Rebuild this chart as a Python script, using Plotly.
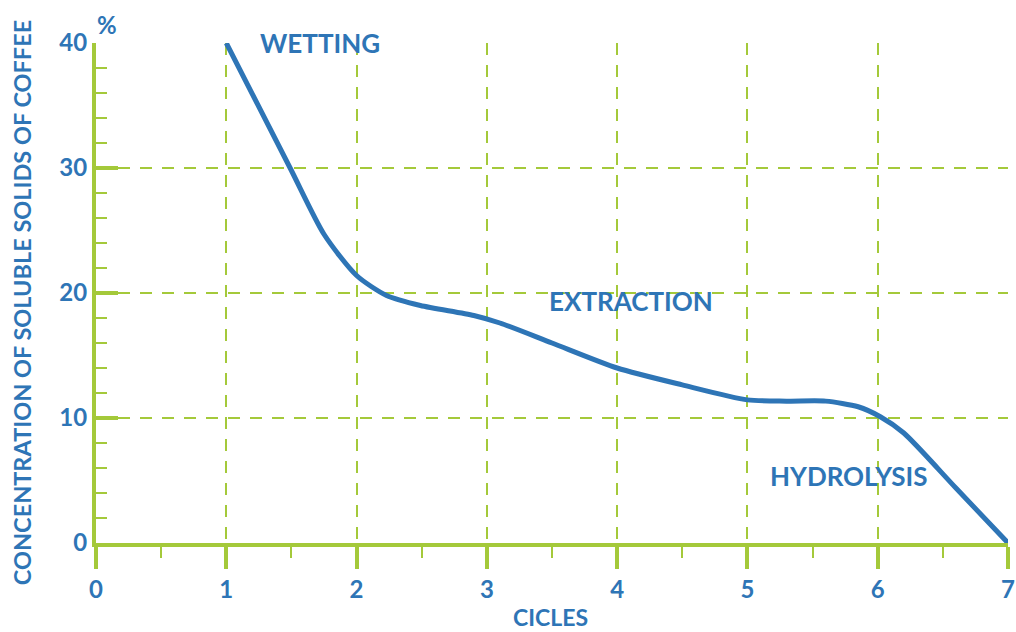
import plotly.graph_objects as go

cycles = [1, 1.49, 1.75, 2.0, 2.23, 2.49, 2.9, 3.1, 3.5, 4.0, 4.5, 5.0, 5.3, 5.6, 5.85, 6.02, 6.2, 6.6, 7]
concentration = [40, 30, 24.7, 21.4, 19.8, 19.0, 18.2, 17.6, 16.0, 14.0, 12.65, 11.45, 11.35, 11.35, 10.9, 10.1, 8.8, 4.4, 0]

x_ticks = [0, 1, 2, 3, 4, 5, 6, 7]
y_ticks = [0, 10, 20, 30, 40]

phases = ["WETTING", "EXTRACTION", "HYDROLYSIS"]
phase_x = [1.717, 4.105, 5.78]
phase_y = [40, 19.36, 5.36]

BLUE = "#2e75b6"
GREEN = "#a4c93a"
FONT = "Lato"

fig = go.Figure()
fig.add_trace(go.Scatter(
    x=cycles, y=concentration, mode="lines",
    line=dict(color=BLUE, width=5, shape="spline", smoothing=0.7),
    hoverinfo="skip", cliponaxis=False,
))

for t, px, py in zip(phases, phase_x, phase_y):
    fig.add_annotation(x=px, y=py, text=t, showarrow=False,
                       font=dict(family=FONT, size=26, color=BLUE, weight="bold"),
                       xanchor="center", yanchor="middle")

fig.add_annotation(xref="paper", yref="paper", x=-0.0815, y=0.481,
                   text="CONCENTRATION OF SOLUBLE SOLIDS OF COFFEE",
                   textangle=-90, showarrow=False,
                   font=dict(family=FONT, size=23.5, color=BLUE, weight="bold"),
                   xanchor="center", yanchor="middle")
fig.add_annotation(xref="paper", yref="paper", x=0.4985, y=-0.148,
                   text="CICLES", showarrow=False, borderpad=0,
                   font=dict(family=FONT, size=23, color=BLUE, weight="bold"),
                   xanchor="center", yanchor="middle")
fig.add_annotation(xref="paper", yref="paper", x=0.0126, y=1.037,
                   text="%", showarrow=False,
                   font=dict(family=FONT, size=24, color=BLUE, weight="bold"),
                   xanchor="center", yanchor="middle")

fig.update_layout(
    width=1016, height=632,
    margin=dict(l=96, r=8, t=43, b=89, autoexpand=False),
    paper_bgcolor="white", plot_bgcolor="white",
    showlegend=False,
)
fig.update_xaxes(
    range=[0, 7], tickvals=x_ticks, ticktext=[str(v) for v in x_ticks],
    showline=True, linecolor=GREEN, linewidth=4,
    ticks="outside", ticklen=22, tickwidth=4, tickcolor=GREEN,
    minor=dict(dtick=0.5, ticks="outside", ticklen=11, tickwidth=2, tickcolor=GREEN, showgrid=False),
    showgrid=True, gridcolor=GREEN, gridwidth=2, griddash="12px,10px",
    zeroline=False, automargin=False,
    tickfont=dict(family=FONT, size=24, color=BLUE, weight="bold"),
)
fig.update_yaxes(
    range=[0, 40], tickvals=y_ticks, ticktext=[str(v) for v in y_ticks],
    showline=True, linecolor=GREEN, linewidth=4,
    ticks="inside", ticklen=22, tickwidth=4, tickcolor=GREEN,
    minor=dict(dtick=2, ticks="inside", ticklen=11, tickwidth=2, tickcolor=GREEN, showgrid=False),
    showgrid=True, gridcolor=GREEN, gridwidth=2, griddash="12px,10px",
    zeroline=False, automargin=False,
    tickfont=dict(family=FONT, size=24, color=BLUE, weight="bold"),
)

fig.write_html("out.html", config={"displayModeBar": False},
               post_script="document.body.style.margin='0';")
